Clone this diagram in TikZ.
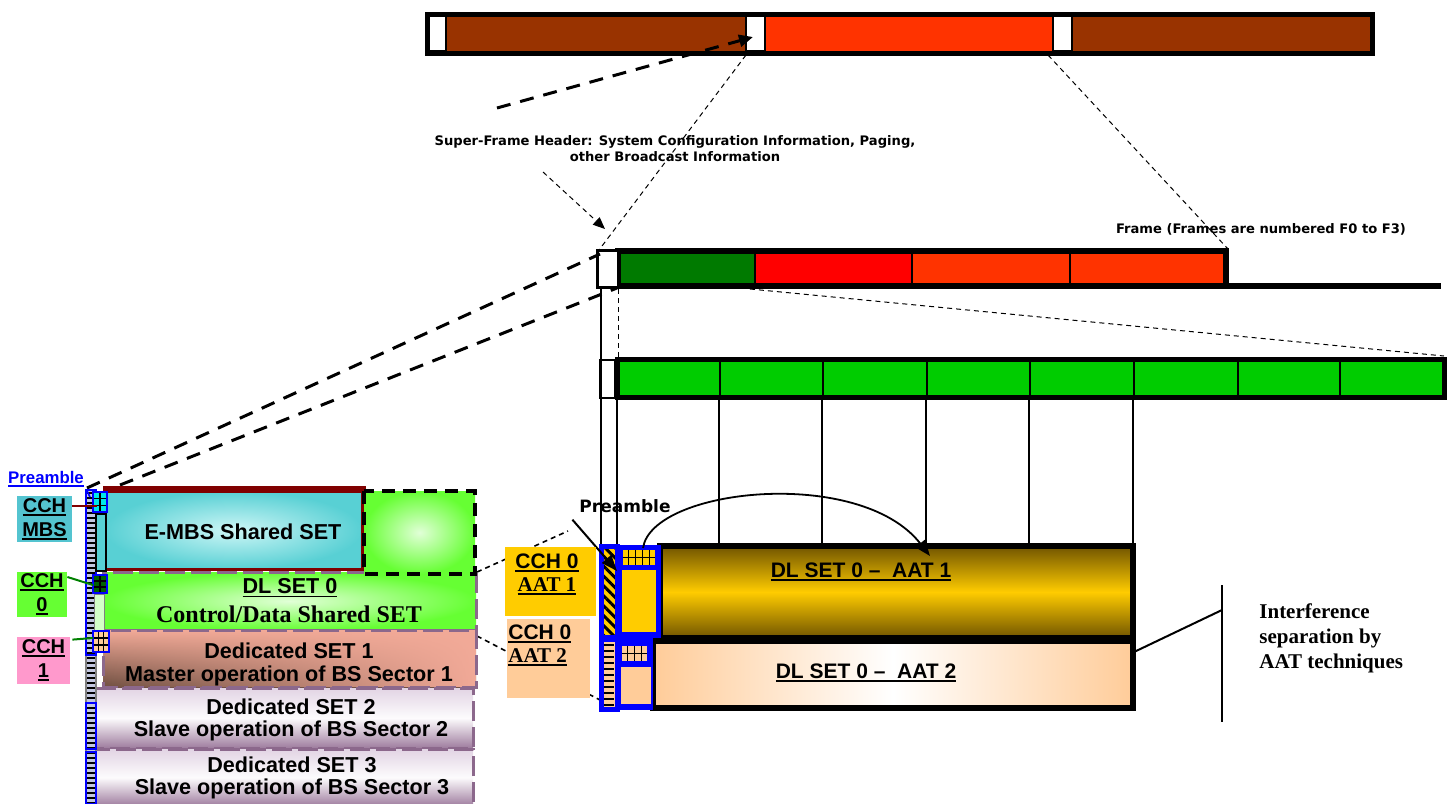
\documentclass[tikz,border=0pt]{standalone}
\usepackage{fontspec}
\setmainfont{Liberation Serif}
\setsansfont{Liberation Sans}
\newfontfamily\capfont{DejaVu Sans}
\newcommand{\ulbox}[1]{\setbox0=\hbox{#1}\leavevmode\rlap{\rule[-1.8pt]{\wd0}{0.9pt}}\box0}
\usetikzlibrary{arrows.meta,patterns.meta,fadings}
\definecolor{sfbrown}{RGB}{153,51,0}
\definecolor{sfred}{RGB}{255,51,0}
\definecolor{fdgreen}{RGB}{0,122,0}
\definecolor{sbgreen}{RGB}{0,204,0}
\definecolor{aatgold}{RGB}{255,204,0}
\definecolor{aatdark}{RGB}{112,84,0}
\definecolor{aatpeach}{RGB}{255,204,153}
\definecolor{mbsteal}{RGB}{88,208,212}
\definecolor{mbslight}{RGB}{205,246,246}
\definecolor{mbslbl}{RGB}{84,196,208}
\definecolor{mbsred}{RGB}{128,0,0}
\definecolor{lgreen}{RGB}{102,255,51}
\definecolor{lglight}{RGB}{225,255,215}
\definecolor{cchpink}{RGB}{255,153,204}
\definecolor{setpurple}{RGB}{140,104,140}
\definecolor{salmon}{RGB}{242,170,152}
\definecolor{setbrown}{RGB}{112,80,66}
\definecolor{lavtop}{RGB}{226,212,228}
\definecolor{lavbot}{RGB}{158,124,158}
\definecolor{ladfill}{RGB}{196,200,226}
\definecolor{bsblue}{RGB}{0,0,255}
\definecolor{cyancell}{RGB}{0,232,232}
\definecolor{dkcell}{RGB}{0,96,0}
\definecolor{palegreen}{RGB}{212,255,200}
\tikzset{
  sfcell/.style={draw=black, line width=0.6pt},
  barbox/.style={draw=black, line width=2.5pt},
  thdash/.style={black, line width=0.5pt, dash pattern=on 2.5pt off 2pt},
  bigdash/.style={black, line width=1.5pt, dash pattern=on 7pt off 5pt},
  setbox/.style={draw=setpurple, line width=1.5pt, dash pattern=on 10pt off 3pt},
  blu/.style={draw=bsblue, line width=1.2pt},
  vln/.style={black, line width=0.8pt},
  txtS/.style={font=\sffamily\bfseries\fontsize{10.8}{13}\selectfont},
  txtR/.style={font=\rmfamily\bfseries\fontsize{12}{14}\selectfont},
  capt/.style={font=\capfont\bfseries\fontsize{6.55}{8}\selectfont},
  cchlbl/.style={font=\sffamily\bfseries\fontsize{10}{12}\selectfont, align=center, inner sep=0pt},
}
% small gridded cell: x1,y1,x2,y2,cols,rows,fill
\newcommand{\gridcell}[7]{%
  \fill[#7] (#1,#2) rectangle (#3,#4);
  \pgfmathtruncatemacro{\gcA}{#5-1}\pgfmathtruncatemacro{\gcB}{#6-1}%
  \foreach \k in {1,...,\gcA}
    \draw[line width=0.6pt] ({#1+\k*(#3-#1)/#5},#2) -- ({#1+\k*(#3-#1)/#5},#4);
  \foreach \k in {1,...,\gcB}
    \draw[line width=0.6pt] (#1,{#2+\k*(#4-#2)/#6}) -- (#3,{#2+\k*(#4-#2)/#6});
  \draw[blu] (#1,#2) rectangle (#3,#4);}

\begin{document}
\begin{tikzpicture}[x=0.5pt,y=-0.5pt]
\useasboundingbox (0,0) rectangle (1453,804);

% super-frame
\fill[sfbrown] (445,15) rectangle (746,51);
\fill[sfred] (765,15) rectangle (1053,51);
\fill[sfbrown] (1072,15) rectangle (1370,51);
\foreach \x in {427,746,1053}
  \draw[sfcell, fill=white] (\x,15) rectangle ++(19,36);
\draw[barbox] (427,14) rectangle (1372,53);
\coordinate (sfh-a) at (746,55);
\coordinate (sfh-b) at (1048,55);
\coordinate (sfh-tip) at (753,37);
\coordinate (sfh-tail) at (497,108);
\coordinate (sfh-tail2) at (543,172);
\node[capt, align=center] (sfhtxt) at (675,149)
  {Super-Frame Header: System Configuration Information, Paging,\\other Broadcast Information};

% frame
\fill[fdgreen] (618,252) rectangle (755,285);
\fill[red] (755,252) rectangle (912,285);
\fill[sfred] (912,252) rectangle (1226,285);
\foreach \x in {755,912,1070} \draw[line width=0.8pt] (\x,252) -- (\x,285);
\draw[barbox, line width=3pt] (618,251) rectangle (1226,286);
\draw[line width=3pt] (1226,286) -- (1441,286);
\draw[line width=1.5pt, fill=white] (597,250) rectangle (618,287);
\coordinate (fr-top) at (599,250);
\coordinate (fr-tip) at (605,229);
\coordinate (fr-end) at (1228,249);
\coordinate (fr-in) at (600,254);
\coordinate (fr-low) at (617,288);
\coordinate (f0-end) at (750,289);
\node[capt] (frtxt) at (1261,229) {Frame (Frames are numbered F0 to F3)};

% subframes
\fill[sbgreen] (617,360) rectangle (1443,396);
\foreach \x in {720,823,927,1030,1134,1238,1340} \draw[line width=0.8pt] (\x,360) -- (\x,396);
\draw[barbox] (617,359) rectangle (1444,397);
\draw[line width=1pt, fill=white] (600,360) rectangle (615,398);
\coordinate (sb-end) at (1444,356);

\draw[bigdash, -{Triangle[length=7pt,width=6pt]}] (sfh-tail) -- (sfh-tip);
\draw[thdash] (sfh-a) -- (fr-top);
\draw[thdash, -{Triangle[length=6pt,width=5pt]}] (sfh-tail2) -- (fr-tip);
\draw[thdash] (sfh-b) -- (fr-end);
\draw[thdash] (f0-end) -- (sb-end);
\draw[vln] (601,287) -- (601,545);
\draw[thdash] (618,289) -- (618,358);
\foreach \x in {617,719,822,926,1029,1133} \draw[vln] (\x,398) -- (\x,546);

% left-hand zoom lines
\coordinate (lp-a) at (87,488);
\coordinate (lp-b) at (120,485);
\draw[bigdash] (lp-a) -- (fr-in);
\draw[bigdash] (lp-b) -- (fr-low);
\coordinate (grn-a) at (477,572);
\coordinate (grn-b) at (477,636);
\coordinate (aat-a) at (568,531);
\coordinate (aat-b) at (600,700);
\draw[thdash, line width=0.8pt] (grn-a) -- (aat-a);
\draw[thdash, line width=0.8pt] (grn-b) -- (aat-b);

% DL SET 0 with AAT
\draw[line width=3pt, top color=aatdark, bottom color=aatdark, middle color=aatgold]
  (660,546) rectangle (1133,638);
\draw[line width=3pt, left color=aatpeach, right color=aatpeach, middle color=white]
  (653,641) rectangle (1133,708);
\node[txtS, font=\sffamily\bfseries\fontsize{10.5}{12}\selectfont] (aat1) at (861,572) {\ulbox{DL SET 0 –\ \ AAT 1}};
\node[txtS, font=\sffamily\bfseries\fontsize{10.5}{12}\selectfont] (aat2) at (866,673) {\ulbox{DL SET 0 –\ \ AAT 2}};

% preamble + CCH columns
\fill[aatgold] (602,547) rectangle (616,636);
\fill[pattern={Lines[angle=-45,distance=3.5pt,line width=1.5pt]}, pattern color=black]
  (602,547) rectangle (616,636);
\draw[blu, line width=2.5pt] (601,546) rectangle (617,637);
\fill[aatpeach] (602,640) rectangle (616,707);
\foreach \yy in {645,651,...,705} \draw[line width=1.2pt] (604,\yy) -- (614,\yy);
\draw[blu, line width=2.5pt] (601,639) rectangle (617,709);
\fill[bsblue] (617,545) rectangle (661,638);
\gridcell{622}{549}{656}{566}{5}{2}{aatgold}
\fill[aatgold] (622,570) rectangle (656,632);
\fill[bsblue] (617,638) rectangle (653,710);
\gridcell{621}{645}{648}{662}{4}{2}{aatpeach}
\fill[aatpeach] (621,667) rectangle (651,704);
\coordinate (hatch) at (617,571);
\coordinate (grid1) at (643,548);
\coordinate (aat1-in) at (930,556);

\node[capt, font=\capfont\bfseries\fontsize{8.5}{10}\selectfont] (preR) at (625,506) {Preamble};
\draw[line width=1pt, -{Triangle[length=8pt,width=6pt]}] (preR.south west) -- (hatch);
\draw[line width=0.9pt, -{Triangle[length=8pt,width=6pt]}] (grid1) .. controls (652,488) and (860,466) .. (aat1-in);

\fill[aatgold] (505,547) rectangle (596,616);
\node[font=\bfseries\fontsize{10.5}{11.5}\selectfont, align=center] (cch0a) at (547,574)
  {\sffamily\ulbox{CCH 0}\\\rmfamily\ulbox{AAT 1}};
\fill[aatpeach] (507,619) rectangle (590,698);
\node[font=\bfseries\fontsize{10.5}{11.5}\selectfont, align=left, anchor=north west, inner sep=0pt] (cch0b) at (508,624)
  {\sffamily\ulbox{CCH 0}\\\rmfamily\ulbox{AAT 2}};

% interference note
\coordinate (brk-top) at (1222,585);
\coordinate (brk-bot) at (1222,722);
\coordinate (brk-mid) at (1222,610);
\coordinate (aat-rt) at (1134,652);
\draw[vln, line width=1pt] (brk-top) -- (brk-bot);
\draw[vln, line width=1pt] (aat-rt) -- (brk-mid);
\node[font=\rmfamily\bfseries\fontsize{10.5}{12.5}\selectfont, align=left, anchor=north west, inner sep=0pt]
  (itf) at (1259,603) {Interference\\separation by\\AAT techniques};

% left: SET stack
\draw[setbox, inner color=lglight, outer color=lgreen] (103,572) rectangle (476,630);
\shade[top color=salmon, bottom color=setbrown] (103,630) rectangle (476,687);
\fill[salmon, path fading=west] (103,630) rectangle (476,687);
\draw[setbox] (103,630) rectangle (476,687);
\draw[setbox, top color=lavtop, bottom color=lavbot, middle color=white!92!lavtop] (92,688) rectangle (473,748);
\draw[setbox, top color=lavtop, bottom color=lavbot, middle color=white!92!lavtop] (92,749) rectangle (473,806);
\draw[draw=mbsred, line width=1.5pt, inner color=mbslight, outer color=mbsteal] (105,491) rectangle (362,569);
\draw[mbsred, line width=3pt] (103,489) -- (366,489);
\draw[line width=2pt, dash pattern=on 6.5pt off 4pt, inner color=lglight, outer color=lgreen]
  (364,491) rectangle (475,574);

\node[txtS] (mbs) at (243,532) {E-MBS Shared SET};
\node[txtS] (dl0) at (290,588) {\ulbox{DL SET 0}};
\node[txtR] (dl0b) at (289,614) {Control/Data Shared SET};
\node[txtS] (ds1) at (289,651) {Dedicated SET 1};
\node[txtS] (ds1b) at (289,676) {Master operation of BS Sector 1};
\node[txtS] (ds2) at (291,707) {Dedicated SET 2};
\node[txtS] (ds2b) at (291,731) {Slave operation of BS Sector 2};
\node[txtS] (ds3) at (292,765) {Dedicated SET 3};
\node[txtS] (ds3b) at (292,789) {Slave operation of BS Sector 3};

% left: preamble strip
\fill[ladfill] (86,490) rectangle (96,804);
\foreach \yy in {493,498,...,803} \draw[line width=0.8pt] (87,\yy) -- (95,\yy);
\draw[gray, line width=0.6pt] (86,490) rectangle (96,804);
\foreach \a/\b in {490/655,703/749,752/804} \draw[blu] (86,\a) rectangle (96,\b);
\gridcell{93}{492}{107}{512}{2}{3}{cyancell}
\draw[line width=1pt, fill=mbsteal] (96,514) rectangle (106,571);
\gridcell{93}{575}{107}{593}{2}{3}{dkcell}
\draw[gray, fill=palegreen] (94,594) rectangle (104,630);
\gridcell{93}{631}{109}{652}{3}{3}{aatpeach}
\coordinate (mbs-g) at (97,506);
\coordinate (c0-g) at (93,585);
\coordinate (c1-g) at (93,638);
\coordinate (lad-top) at (90,497);

\node[font=\sffamily\bfseries\fontsize{8.4}{10}\selectfont, text=bsblue, inner sep=1pt] (preL) at (46,479) {\ulbox{Preamble}};
\draw[bsblue, line width=0.8pt] (preL.south east) -- (lad-top);

\node[cchlbl, fill=mbslbl, minimum width=27.5pt, minimum height=23pt] (cchmbs) at (44.5,519) {\ulbox{CCH}\\\ulbox{MBS}};
\node[cchlbl, fill=lgreen, minimum width=25pt, minimum height=22.5pt] (cch0) at (42,594.5) {\ulbox{CCH}\\\ulbox{0}};
\node[cchlbl, fill=cchpink, minimum width=26.5pt, minimum height=23.5pt] (cch1) at (43.5,660.5) {\ulbox{CCH}\\\ulbox{1}};
\draw[mbsred, line width=1pt] (cchmbs.east |- mbs-g) -- (mbs-g);
\draw[green!50!black, line width=1pt] (cch0.east |- 0,577) -- (c0-g);
\draw[green!50!black, line width=1pt] (cch1.north east) ++(2,3) -- (c1-g);
\end{tikzpicture}
\end{document}
